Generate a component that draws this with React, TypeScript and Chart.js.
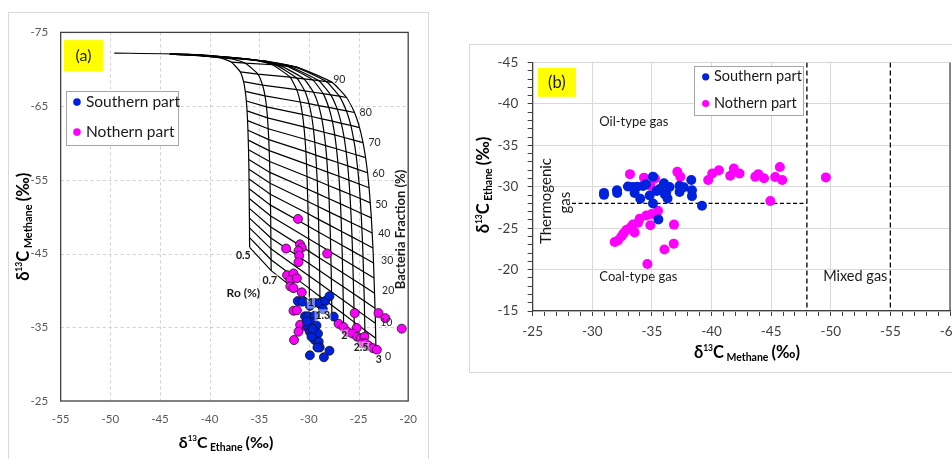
import React, { useEffect, useRef } from "react";
import { Chart, registerables } from "chart.js";
Chart.register(...registerables);

const FONT = 'Lato, "Noto Sans", sans-serif';
const BLUE = "#0022dd";
const MAGENTA = "#ff00ff";

// ---------------- Panel (a): mixing model grid ----------------
const roCurveLabels = ["0.5", "0.7", "1", "1.3", "1.5", "2", "2.2", "2.5", "3"];
const ro05Ethane = [-35.97, -35.98, -35.98, -35.99, -36.0, -36.01, -36.02, -36.03, -36.04, -36.06, -36.08, -36.11, -36.14, -36.18, -36.23, -36.3, -36.41, -36.58, -36.91, -37.82, -38.85, -42.17, -49.6];
const ro05Methane = [-45.84, -47.16, -48.49, -49.81, -51.13, -52.46, -53.78, -55.1, -56.42, -57.75, -59.07, -60.39, -61.72, -63.04, -64.36, -65.69, -67.01, -68.33, -69.65, -70.98, -71.51, -72.04, -72.2];
const ro07Ethane = [-33.8, -33.81, -33.82, -33.83, -33.84, -33.85, -33.87, -33.89, -33.91, -33.93, -33.96, -34.0, -34.04, -34.1, -34.17, -34.27, -34.42, -34.67, -35.14, -36.39, -37.76, -41.86, -44.0];
const ro07Methane = [-42.68, -44.16, -45.64, -47.12, -48.6, -50.09, -51.57, -53.05, -54.53, -56.01, -57.49, -58.97, -60.45, -61.93, -63.41, -64.9, -66.38, -67.86, -69.34, -70.82, -71.41, -71.99, -72.05];
const ro10Ethane = [-29.95, -29.96, -29.98, -29.99, -30.01, -30.03, -30.05, -30.08, -30.11, -30.15, -30.19, -30.24, -30.3, -30.39, -30.5, -30.65, -30.87, -31.23, -31.9, -33.67, -35.56, -40.84, -44.0];
const ro10Methane = [-38.59, -40.28, -41.96, -43.65, -45.33, -47.02, -48.7, -50.39, -52.07, -53.76, -55.45, -57.13, -58.82, -60.5, -62.19, -63.87, -65.56, -67.24, -68.93, -70.61, -71.29, -71.96, -72.05];
const ro13Ethane = [-28.87, -28.89, -28.9, -28.92, -28.94, -28.97, -29.0, -29.03, -29.07, -29.11, -29.16, -29.23, -29.31, -29.41, -29.54, -29.72, -29.99, -30.42, -31.23, -33.31, -35.45, -41.14, -44.0];
const ro13Methane = [-37.44, -39.18, -40.93, -42.67, -44.41, -46.16, -47.9, -49.64, -51.38, -53.13, -54.87, -56.61, -58.36, -60.1, -61.84, -63.59, -65.33, -67.07, -68.81, -70.56, -71.25, -71.95, -72.05];
const ro15Ethane = [-27.68, -27.7, -27.72, -27.74, -27.77, -27.8, -27.83, -27.87, -27.92, -27.97, -28.03, -28.11, -28.2, -28.32, -28.48, -28.7, -29.02, -29.54, -30.49, -32.88, -35.29, -41.36, -44.0];
const ro15Methane = [-36.17, -37.98, -39.78, -41.59, -43.4, -45.2, -47.01, -48.82, -50.62, -52.43, -54.24, -56.04, -57.85, -59.65, -61.46, -63.27, -65.07, -66.88, -68.69, -70.49, -71.22, -71.94, -72.05];
const ro20Ethane = [-26.5, -26.52, -26.54, -26.57, -26.6, -26.63, -26.67, -26.71, -26.76, -26.82, -26.89, -26.98, -27.08, -27.22, -27.4, -27.64, -28.0, -28.57, -29.62, -32.24, -34.84, -41.24, -44.0];
const ro20Methane = [-34.92, -36.79, -38.66, -40.53, -42.4, -44.27, -46.13, -48.0, -49.87, -51.74, -53.61, -55.48, -57.35, -59.22, -61.09, -62.96, -64.82, -66.69, -68.56, -70.43, -71.18, -71.93, -72.05];
const ro22Ethane = [-25.41, -25.44, -25.46, -25.49, -25.53, -25.57, -25.61, -25.66, -25.72, -25.79, -25.87, -25.97, -26.09, -26.25, -26.45, -26.74, -27.15, -27.8, -29.0, -31.93, -34.77, -41.47, -44.0];
const ro22Methane = [-33.77, -35.7, -37.62, -39.55, -41.48, -43.4, -45.33, -47.26, -49.18, -51.11, -53.04, -54.96, -56.89, -58.81, -60.74, -62.67, -64.59, -66.52, -68.45, -70.37, -71.14, -71.91, -72.05];
const ro25Ethane = [-24.33, -24.36, -24.39, -24.42, -24.46, -24.5, -24.55, -24.6, -24.67, -24.74, -24.83, -24.94, -25.08, -25.25, -25.48, -25.78, -26.23, -26.94, -28.25, -31.4, -34.41, -41.39, -44.0];
const ro25Methane = [-32.61, -34.59, -36.58, -38.56, -40.55, -42.53, -44.52, -46.5, -48.49, -50.47, -52.46, -54.44, -56.42, -58.41, -60.39, -62.38, -64.36, -66.35, -68.33, -70.32, -71.11, -71.9, -72.05];
const ro30Ethane = [-23.24, -23.27, -23.3, -23.34, -23.39, -23.44, -23.49, -23.55, -23.63, -23.71, -23.82, -23.94, -24.09, -24.29, -24.55, -24.9, -25.41, -26.21, -27.66, -31.13, -34.36, -41.58, -44.0];
const ro30Methane = [-31.46, -33.5, -35.54, -37.59, -39.63, -41.67, -43.71, -45.75, -47.8, -49.84, -51.88, -53.92, -55.96, -58.01, -60.05, -62.09, -64.13, -66.17, -68.22, -70.26, -71.07, -71.89, -72.05];
const roCurveEthane = [ro05Ethane, ro07Ethane, ro10Ethane, ro13Ethane, ro15Ethane, ro20Ethane, ro22Ethane, ro25Ethane, ro30Ethane];
const roCurveMethane = [ro05Methane, ro07Methane, ro10Methane, ro13Methane, ro15Methane, ro20Methane, ro22Methane, ro25Methane, ro30Methane];
// bacteria fraction (%) of each drawn fraction line = node index on every Ro curve
const bacteriaFractionLevels = [0, 5, 10, 15, 20, 25, 30, 35, 40, 45, 50, 55, 60, 65, 70, 75, 80, 85, 90, 95];
const bacteriaFractionLabels = ["0", "10", "20", "30", "40", "50", "60", "70", "80", "90"];
const roTextLabels = ["0.5", "0.7", "1", "1.3", "2", "2.5", "3"];

// Panel (a) samples: ethane (x), methane (y)
const southEthaneA = [-31.12, -30.66, -29.9, -29.47, -28.91, -28.35, -27.93, -28.59, -27.5, -30.39, -30.07, -29.41, -30.13, -29.74, -29.24, -29.9, -29.57, -29.08, -29.41, -29.01, -28.91, -29.14, -29.74, -29.9, -28.49, -27.93, -30.2, -29.6];
const southMethaneA = [-38.56, -38.47, -37.9, -38.33, -38.33, -38.56, -39.22, -37.45, -36.45, -36.49, -36.5, -36.58, -35.16, -35.69, -35.26, -34.37, -34.01, -34.14, -33.27, -33.05, -32.26, -32.26, -33.71, -31.2, -30.94, -31.82, -35.8, -34.8];
const northEthaneA = [-31.1, -32.3, -30.9, -30.72, -31.05, -30.98, -31.05, -28.16, -32.2, -31.55, -31.87, -31.21, -31.87, -31.55, -30.72, -31.55, -31.21, -30.88, -30.23, -31.05, -31.5, -25.39, -27.01, -26.51, -25.19, -26.12, -25.62, -25.13, -24.8, -24.4, -24.64, -24.31, -23.98, -23.55, -23.16, -22.99, -22.3, -20.65];
const northMethaneA = [-49.7, -45.68, -46.25, -45.8, -45.37, -44.7, -43.84, -45.0, -42.07, -42.3, -41.41, -41.64, -40.54, -40.31, -39.74, -37.24, -37.3, -35.34, -35.03, -34.4, -33.27, -36.93, -35.47, -35.03, -34.9, -34.37, -34.15, -33.71, -33.49, -33.71, -32.82, -32.82, -32.48, -32.17, -31.95, -36.93, -36.24, -34.81];

const xTicksA = [-55, -50, -45, -40, -35, -30, -25, -20];
const yTicksA = [-75, -65, -55, -45, -35, -25];

// ---------------- Panel (b) ----------------
const southMethaneB = [-30.98, -30.98, -32.07, -32.09, -32.99, -33.36, -33.55, -33.75, -34.02, -34.25, -34.5, -35.09, -34.81, -35.09, -35.54, -35.64, -35.4, -36.01, -36.2, -36.48, -36.31, -36.09, -37.32, -37.32, -37.68, -38.3, -38.36, -38.36, -39.2];
const southEthaneB = [-29.26, -29.02, -29.57, -29.26, -30.04, -29.96, -29.26, -30.0, -28.56, -30.1, -30.3, -31.22, -28.95, -27.97, -26.06, -29.73, -29.5, -30.43, -29.26, -29.96, -28.59, -29.06, -30.12, -29.38, -29.93, -30.82, -29.57, -28.87, -27.7];
const northMethaneB = [-33.16, -34.34, -35.26, -34.87, -37.13, -37.38, -39.72, -40.06, -40.62, -41.57, -41.87, -42.35, -43.67, -43.92, -44.4, -45.34, -45.73, -45.93, -44.93, -49.59, -31.88, -32.15, -32.44, -32.63, -32.85, -33.19, -33.55, -33.41, -33.83, -33.97, -34.53, -34.98, -35.51, -34.87, -36.85, -36.83, -36.05, -34.62];
const northEthaneB = [-31.52, -31.1, -31.0, -30.12, -31.8, -31.21, -30.82, -31.6, -31.99, -31.33, -32.19, -31.6, -31.21, -31.52, -31.02, -31.17, -32.39, -30.82, -28.29, -31.13, -23.32, -23.52, -23.99, -24.37, -24.77, -25.08, -24.49, -25.43, -25.66, -26.13, -26.53, -26.72, -27.11, -25.36, -25.43, -23.13, -22.43, -20.67];
const mixedGasBoundaries = [-48, -55];
const thermogenicSplitEthane = -28;
const thermogenicSplitMethane = [-28.3, -48];

const seriesNames = ["Southern part", "Nothern part"];

// ---------------- helpers ----------------
type Part = { t: string; size: number; bold?: boolean; dy?: number; gap?: number };
function drawRich(ctx: CanvasRenderingContext2D, cx: number, cy: number, parts: Part[], rotate: boolean, color: string) {
  ctx.save();
  ctx.translate(cx, cy);
  if (rotate) ctx.rotate(-Math.PI / 2);
  ctx.textAlign = "left";
  ctx.textBaseline = "alphabetic";
  ctx.fillStyle = color;
  const fonts = parts.map((p) => `${p.bold ? "bold " : ""}${p.size}px ${FONT}`);
  const widths = parts.map((p, i) => {
    ctx.font = fonts[i];
    return ctx.measureText(p.t).width + (p.gap || 0);
  });
  const total = widths.reduce((a, b) => a + b, 0);
  let x = -total / 2;
  parts.forEach((p, i) => {
    ctx.font = fonts[i];
    ctx.fillText(p.t, x, p.dy || 0);
    x += widths[i];
  });
  ctx.restore();
}
function titleParts(sub: string, M: number, s: number, sup: number): Part[] {
  return [
    { t: "δ", size: M, bold: true },
    { t: "13", size: sup, bold: true, dy: -M * 0.42 },
    { t: "C", size: M, bold: true, gap: 2.5 },
    { t: sub, size: s, bold: true, dy: 3, gap: 3 },
    { t: "(‰)", size: M, bold: true },
  ];
}
function drawText(ctx: CanvasRenderingContext2D, t: string, x: number, y: number, font: string, color: string, align: CanvasTextAlign = "center", rotate = false) {
  ctx.save();
  ctx.translate(x, y);
  if (rotate) ctx.rotate(-Math.PI / 2);
  ctx.font = font;
  ctx.fillStyle = color;
  ctx.textAlign = align;
  ctx.textBaseline = "middle";
  ctx.fillText(t, 0, 0);
  ctx.restore();
}
function drawLegend(ctx: CanvasRenderingContext2D, x: number, y: number, w: number, h: number, rows: number[], dotX: number, textX: number, size: number, r: number) {
  ctx.save();
  ctx.fillStyle = "#fff";
  ctx.fillRect(x, y, w, h);
  ctx.strokeStyle = "#a6a6a6";
  ctx.lineWidth = 1;
  ctx.strokeRect(Math.round(x) + 0.5, Math.round(y) + 0.5, w, h);
  [BLUE, MAGENTA].forEach((c, i) => {
    ctx.beginPath();
    ctx.fillStyle = c;
    ctx.arc(x + dotX, y + rows[i], r, 0, Math.PI * 2);
    ctx.fill();
    drawText(ctx, seriesNames[i], x + textX, y + rows[i], `${size}px ${FONT}`, "#1a1a1a", "left");
  });
  ctx.restore();
}
function drawTag(ctx: CanvasRenderingContext2D, t: string, x: number, y: number, w: number, h: number, size: number) {
  ctx.save();
  ctx.fillStyle = "#ffff00";
  ctx.fillRect(x, y, w, h);
  drawText(ctx, t, x + w / 2, y + h / 2, `${size}px ${FONT}`, "#1a1a1a");
  ctx.restore();
}
const pts = (xs: number[], ys: number[]) => xs.map((x, i) => ({ x, y: ys[i] }));

// label anchors (data coordinates)
const fractionLabelAnchors = [[-22.02, -31.08], [-22.21, -35.7], [-22.02, -39.92], [-22.12, -44.01], [-22.41, -47.71], [-22.71, -51.67], [-23.0, -55.9], [-23.39, -59.99], [-24.28, -64.08], [-26.94, -68.57]];
const roLabelAnchors = [[-36.6, -44.67], [-33.94, -41.37], [-29.8, -38.34], [-28.6, -36.63], [-26.43, -33.85], [-24.75, -32.26], [-22.97, -30.55]];

function buildA() {
  const datasets: any[] = [
    { label: seriesNames[0], data: pts(southEthaneA, southMethaneA), backgroundColor: BLUE, borderColor: "#111", borderWidth: 0.8, pointRadius: 4.5, order: 0 },
    { label: seriesNames[1], data: pts(northEthaneA, northMethaneA), backgroundColor: MAGENTA, borderColor: "#111", borderWidth: 0.8, pointRadius: 4.5, order: 0 },
  ];
  roCurveEthane.forEach((xs, i) => {
    datasets.push({ label: "Ro " + roCurveLabels[i], data: pts(xs, roCurveMethane[i]), showLine: true, borderColor: "#000", borderWidth: 1.2, pointRadius: 0, tension: 0.15, order: 1 });
  });
  bacteriaFractionLevels.forEach((f, k) => {
    datasets.push({
      label: "Bacteria " + f + "%",
      data: roCurveEthane.map((xs, i) => ({ x: xs[k], y: roCurveMethane[i][k] })),
      showLine: true, borderColor: "#000", borderWidth: 1.2, pointRadius: 0, order: 1,
    });
  });
  const plugin = {
    id: "panelA",
    beforeDatasetsDraw(chart: any) {
      const { ctx, chartArea: ca, scales } = chart;
      ctx.save();
      ctx.strokeStyle = "#d0d0d0";
      ctx.lineWidth = 1;
      ctx.setLineDash([3, 3]);
      xTicksA.slice(1, -1).forEach((v) => {
        const p = Math.round(scales.x.getPixelForValue(v)) + 0.5;
        ctx.beginPath(); ctx.moveTo(p, ca.top); ctx.lineTo(p, ca.bottom); ctx.stroke();
      });
      yTicksA.slice(1, -1).forEach((v) => {
        const p = Math.round(scales.y.getPixelForValue(v)) + 0.5;
        ctx.beginPath(); ctx.moveTo(ca.left, p); ctx.lineTo(ca.right, p); ctx.stroke();
      });
      ctx.setLineDash([]);
      ctx.strokeStyle = "#404040";
      ctx.lineWidth = 1.3;
      ctx.strokeRect(ca.left, ca.top, ca.right - ca.left, ca.bottom - ca.top);
      ctx.restore();
    },
    afterDatasetsDraw(chart: any) {
      const { ctx, chartArea: ca, scales } = chart;
      const X = (v: number) => scales.x.getPixelForValue(v);
      const Y = (v: number) => scales.y.getPixelForValue(v);
      bacteriaFractionLabels.forEach((t, i) => {
        const [ex, me] = fractionLabelAnchors[i];
        drawText(ctx, t, X(ex), Y(me), `10.5px ${FONT}`, "#262626");
      });
      roTextLabels.forEach((t, i) => {
        const [ex, me] = roLabelAnchors[i];
        ctx.save();
        ctx.font = `bold 10.5px ${FONT}`;
        const w = ctx.measureText(t).width;
        ctx.fillStyle = "rgba(255,255,255,0.45)";
        ctx.fillRect(X(ex) - w / 2 - 1, Y(me) - 6, w + 2, 12);
        ctx.restore();
        drawText(ctx, t, X(ex), Y(me), `bold 10.5px ${FONT}`, "#1a1a1a");
      });
      drawText(ctx, "Ro (%)", X(-36.6), Y(-39.63), `bold 12px ${FONT}`, "#1a1a1a");
      drawText(ctx, "Bacteria Fraction (%)", X(-20.72), Y(-48.26), `bold 13px ${FONT}`, "#1a1a1a", "center", true);
      drawLegend(ctx, ca.left + 5.3, ca.top + 58.7, 112, 54, [11, 41], 11, 20, 15.5, 3.8);
      drawTag(ctx, "(a)", ca.left + 3.3, ca.top + 7.7, 39, 31, 16);
      drawRich(ctx, 19.5, ca.top + 194.4, titleParts("Methane", 16.5, 11, 8.5), true, "#000");
      drawRich(ctx, 217, 434.5, titleParts("Ethane", 16, 10.5, 8), false, "#000");
    },
  };
  return {
    type: "scatter",
    data: { datasets },
    plugins: [plugin],
    options: {
      responsive: false,
      animation: false,
      events: [],
      layout: { padding: { top: 9.33, right: 12.67, left: 0, bottom: 0 } },
      plugins: { legend: { display: false }, tooltip: { enabled: false } },
      scales: {
        x: {
          type: "linear", min: -55, max: -20,
          ticks: { stepSize: 5, color: "#595959", font: { family: FONT, size: 11.5 }, padding: 11, maxRotation: 0 },
          grid: { display: false, drawTicks: false },
          border: { display: false },
          afterFit: (s: any) => { s.height = 72; },
        },
        y: {
          type: "linear", min: -75, max: -25, reverse: true,
          ticks: { stepSize: 10, color: "#595959", font: { family: FONT, size: 11.5 }, padding: 12.5 },
          grid: { display: false, drawTicks: false },
          border: { display: false },
          afterFit: (s: any) => { s.width = 51.67; },
        },
      },
    },
  };
}

function buildB() {
  const dash = (data: any[], d: number[]) => ({ data, showLine: true, borderColor: "#000", borderWidth: 1.3, borderDash: d, pointRadius: 0, order: 1 });
  const datasets: any[] = [
    { label: seriesNames[0], data: pts(southMethaneB, southEthaneB), backgroundColor: BLUE, borderWidth: 0, pointRadius: 5, order: 0 },
    { label: seriesNames[1], data: pts(northMethaneB, northEthaneB), backgroundColor: MAGENTA, borderWidth: 0, pointRadius: 5, order: 0 },
    ...mixedGasBoundaries.map((m) => dash([{ x: m, y: -45 }, { x: m, y: -15 }], [5, 3])),
    dash(thermogenicSplitMethane.map((m) => ({ x: m, y: thermogenicSplitEthane })), [4, 2.5]),
  ];
  const isMajor = (v: number) => Math.abs(v % 5) < 1e-9;
  const plugin = {
    id: "panelB",
    beforeDatasetsDraw(chart: any) {
      const { ctx, chartArea: ca } = chart;
      ctx.save();
      ctx.strokeStyle = "#404040";
      ctx.lineWidth = 1.2;
      ctx.beginPath(); ctx.moveTo(ca.right, ca.top); ctx.lineTo(ca.right, ca.bottom); ctx.stroke();
      ctx.restore();
    },
    afterDatasetsDraw(chart: any) {
      const { ctx, chartArea: ca, scales } = chart;
      const X = (v: number) => scales.x.getPixelForValue(v);
      const Y = (v: number) => scales.y.getPixelForValue(v);
      drawText(ctx, "Oil-type gas", X(-30.59), Y(-37.85), `13px ${FONT}`, "#1a1a1a", "left");
      drawText(ctx, "Coal-type gas", X(-30.59), Y(-19.18), `13px ${FONT}`, "#1a1a1a", "left");
      drawText(ctx, "Mixed gas", X(-49.36), Y(-19.18), `14.5px ${FONT}`, "#1a1a1a", "left");
      drawText(ctx, "Thermogenic", X(-26.12), Y(-28.28), `15px ${FONT}`, "#1a1a1a", "center", true);
      drawText(ctx, "gas", X(-27.71), Y(-28.09), `15px ${FONT}`, "#1a1a1a", "center", true);
      drawLegend(ctx, ca.left + 161.6, ca.top + 3.6, 109, 49, [10.7, 37.4], 11.4, 19.7, 14.5, 3.6);
      drawTag(ctx, "(b)", ca.left + 5, ca.top + 5.3, 38.3, 29, 16.5);
      drawRich(ctx, 18.5, 140, titleParts("Ethane", 16.5, 10.5, 8.5), true, "#000");
      drawRich(ctx, 277, 313.3, titleParts("Methane", 16.5, 10.5, 8.5), false, "#000");
    },
  };
  return {
    type: "scatter",
    data: { datasets },
    plugins: [plugin],
    options: {
      responsive: false,
      animation: false,
      events: [],
      layout: { padding: { top: 10.67, right: 20, left: 0, bottom: 0 } },
      plugins: { legend: { display: false }, tooltip: { enabled: false } },
      scales: {
        x: {
          type: "linear", min: -60, max: -25, reverse: true,
          ticks: { stepSize: 1, autoSkip: false, maxRotation: 0, color: "#404040", font: { family: FONT, size: 13.5 }, padding: 7.3, callback: (v: number) => (isMajor(v) ? String(v) : "") },
          grid: { color: (c: any) => (c.tick && isMajor(c.tick.value) && c.tick.value !== -55 ? "#d9d9d9" : "rgba(0,0,0,0)"), tickColor: "#404040", tickLength: 5, lineWidth: 1 },
          border: { display: true, color: "#404040", width: 1.3 },
          afterFit: (s: any) => { s.height = 61; },
        },
        y: {
          type: "linear", min: -45, max: -15, reverse: true,
          ticks: { stepSize: 1, autoSkip: false, color: "#404040", font: { family: FONT, size: 13.5 }, padding: 9.4, callback: (v: number) => (isMajor(v) ? String(v) : "") },
          grid: { color: (c: any) => (c.tick && isMajor(c.tick.value) ? "#d9d9d9" : "rgba(0,0,0,0)"), tickColor: "#404040", tickLength: 5, lineWidth: 1 },
          border: { display: true, color: "#404040", width: 1.3 },
          afterFit: (s: any) => { s.width = 62.67; },
        },
      },
    },
  };
}

export default function App() {
  const refA = useRef<HTMLCanvasElement>(null);
  const refB = useRef<HTMLCanvasElement>(null);
  useEffect(() => {
    const a = new Chart(refA.current as HTMLCanvasElement, buildA() as any);
    const b = new Chart(refB.current as HTMLCanvasElement, buildB() as any);
    return () => {
      a.destroy();
      b.destroy();
    };
  }, []);
  return (
    <div style={{ position: "fixed", left: 0, top: 0, width: 952, height: 459, overflow: "hidden", background: "#fff" }}>
      <div style={{ position: "absolute", left: 8, top: 12, width: 419, height: 460, border: "1px solid #d9d9d9" }}>
        <canvas ref={refA} width={419} height={460} style={{ display: "block", width: 419, height: 460 }} />
      </div>
      <div style={{ position: "absolute", left: 469, top: 44, width: 500, height: 327, border: "1px solid #d9d9d9" }}>
        <canvas ref={refB} width={500} height={327} style={{ display: "block", width: 500, height: 327 }} />
      </div>
    </div>
  );
}
